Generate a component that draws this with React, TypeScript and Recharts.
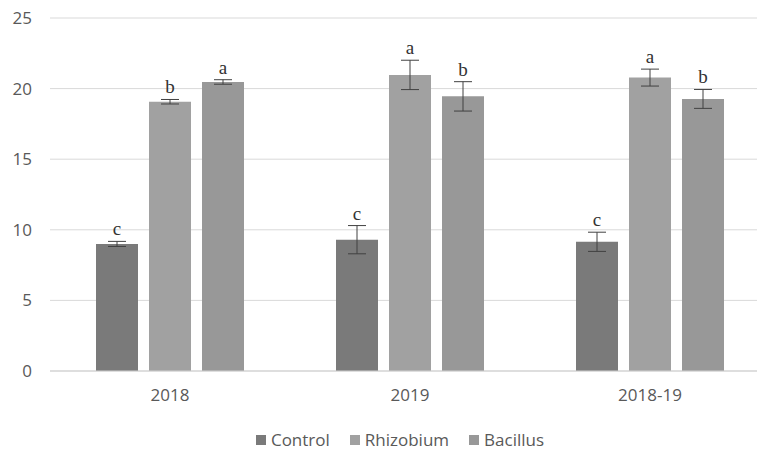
import React from "react";
import {
  BarChart,
  Bar,
  XAxis,
  YAxis,
  CartesianGrid,
  Legend,
  ErrorBar,
  LabelList,
} from "recharts";

// categories and per-treatment means, error (±) and significance letters
const seasons = ["2018", "2019", "2018-19"];

const controlMeans = [9.0, 9.3, 9.15];
const rhizobiumMeans = [19.07, 20.97, 20.78];
const bacillusMeans = [20.47, 19.45, 19.27];

const controlErr = [0.18, 1.0, 0.68];
const rhizobiumErr = [0.16, 1.04, 0.6];
const bacillusErr = [0.16, 1.04, 0.67];

const controlLetters = ["c", "c", "c"];
const rhizobiumLetters = ["b", "a", "a"];
const bacillusLetters = ["a", "b", "b"];

const yTicks = [0, 5, 10, 15, 20, 25];

const SANS = "'Open Sans', 'Liberation Sans', sans-serif";
const SERIF = "'Liberation Serif', 'DejaVu Serif', serif";
const TEXT = "#595959";

const series = [
  { key: "Control", color: "#7a7a7a", err: controlErr, letters: controlLetters },
  { key: "Rhizobium", color: "#a1a1a1", err: rhizobiumErr, letters: rhizobiumLetters },
  { key: "Bacillus", color: "#989898", err: bacillusErr, letters: bacillusLetters },
];

const rows = seasons.map((season, i) => ({
  season,
  Control: controlMeans[i],
  Rhizobium: rhizobiumMeans[i],
  Bacillus: bacillusMeans[i],
  ControlErr: controlErr[i],
  RhizobiumErr: rhizobiumErr[i],
  BacillusErr: bacillusErr[i],
}));

// letter sits just above the error bar cap; bar height / value gives px per unit
const letterLabel = (letters: string[], errs: number[]) => (props: any) => {
  const { x, y, width, height, value, index } = props;
  const v = Number(value);
  if (!v) return null;
  const pxPerUnit = Number(height) / v;
  const capTop = Number(y) - errs[index] * pxPerUnit;
  return (
    <text
      x={Number(x) + Number(width) / 2}
      y={capTop - 6}
      textAnchor="middle"
      fontFamily={SERIF}
      fontSize={19}
      fill="#333"
    >
      {letters[index]}
    </text>
  );
};

const LegendContent = () => (
  <div
    style={{
      display: "flex",
      justifyContent: "center",
      alignItems: "center",
      fontFamily: SANS,
      fontSize: 17,
      color: TEXT,
      lineHeight: "20px",
    }}
  >
    {series.map((s, i) => (
      <div
        key={s.key}
        style={{ display: "flex", alignItems: "center", marginLeft: i ? 20 : 0 }}
      >
        <span
          style={{
            display: "inline-block",
            width: 10,
            height: 10,
            background: s.color,
            marginRight: 5,
          }}
        />
        <span>{s.key}</span>
      </div>
    ))}
  </div>
);

export default function App() {
  return (
    <div
      style={{
        position: "fixed",
        left: 0,
        top: 0,
        width: 757,
        height: 450,
        overflow: "hidden",
        background: "#fff",
      }}
    >
      {/* plot area runs past the right edge (50..770), so the right margin is negative */}
      <BarChart
        width={757}
        height={450}
        data={rows}
        margin={{ top: 18, right: -13, left: 0, bottom: 0 }}
        barSize={42}
        barGap={11}
        barCategoryGap={46}
      >
        <CartesianGrid vertical={false} stroke="#d9d9d9" />
        <XAxis
          dataKey="season"
          height={79}
          axisLine={{ stroke: "#d0d0d0" }}
          tickLine={false}
          tickSize={0}
          tickMargin={18}
          tick={{ fill: TEXT, fontSize: 17, fontFamily: SANS }}
        />
        <YAxis
          width={50}
          domain={[0, 25]}
          ticks={yTicks}
          axisLine={false}
          tickLine={false}
          tickSize={0}
          tickMargin={18}
          tick={{ fill: TEXT, fontSize: 17, fontFamily: SANS }}
        />
        <Legend
          layout="horizontal"
          verticalAlign="middle"
          content={<LegendContent />}
          wrapperStyle={{ top: 430, left: 0, width: 800, height: 20, overflow: "visible" }}
        />
        {series.map((s) => (
          <Bar key={s.key} dataKey={s.key} fill={s.color} isAnimationActive={false}>
            <ErrorBar
              dataKey={`${s.key}Err`}
              width={9}
              stroke="#404040"
              strokeWidth={1}
              isAnimationActive={false}
            />
            <LabelList dataKey={s.key} content={letterLabel(s.letters, s.err)} />
          </Bar>
        ))}
      </BarChart>
    </div>
  );
}
